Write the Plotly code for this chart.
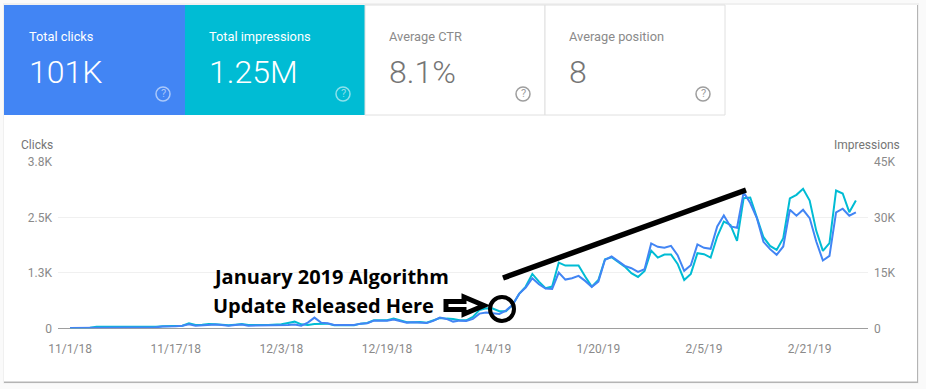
import pandas as pd
import plotly.graph_objects as go

W, H = 926, 389
start_date = "2018-11-01"
clicks = [8,8,8,8,15,23,23,23,23,15,15,15,15,23,38,38,45,60,90,60,68,90,83,75,60,75,83,60,60,68,
          68,68,68,75,83,60,128,241,128,113,75,75,75,75,105,113,173,166,173,196,166,128,136,136,120,166,241,211,151,173,
          166,211,331,354,339,324,399,527,776,919,1130,994,896,889,1258,1099,1130,1182,1069,934,1054,1544,1619,1514,1408,1355,1273,1333,1913,1837,
          1815,1860,1649,1295,1423,1890,1815,1792,2297,2545,2297,2267,3065,2824,2485,1950,1785,1657,1845,2673,2538,2673,2485,1958,1529,1634,2613,2696,2538,2613]
impressions = [90,90,90,180,450,450,450,360,360,270,270,270,360,450,540,540,540,720,1350,900,990,1170,1080,900,810,990,1170,900,810,900,
               900,990,1080,1440,1800,1080,900,1170,1170,1260,810,810,720,810,1260,1440,2160,2080,2170,2620,2170,1625,1625,1715,1535,2080,2800,2620,2530,2170,
               2170,3070,4970,5420,5330,4600,4600,6320,9300,11290,14720,12640,10840,11290,17790,16980,16980,16980,14000,11290,13090,18690,19230,18060,16700,14900,13900,15530,21040,19140,
               19960,19960,17430,13090,14720,20320,20050,19140,24830,28900,27990,23660,35220,35400,30250,24650,22300,21220,24380,35130,36120,37750,34580,26370,20950,23030,37290,36480,31420,34580]
x_tick_dates = ["2018-11-01","2018-11-17","2018-12-03","2018-12-19","2019-01-04","2019-01-20","2019-02-05","2019-02-21"]
x_tick_labels = ["11/1/18","11/17/18","12/3/18","12/19/18","1/4/19","1/20/19","2/5/19","2/21/19"]
y_left_vals = [0,1250,2500,3750]
y_left_labels = ["0","1.3K","2.5K","3.8K"]
y_right_vals = [0,15000,30000,45000]
y_right_labels = ["0","15K","30K","45K"]

BLUE, TEAL = "#4285F4", "#00BCD4"
dates = pd.date_range(start_date, periods=len(clicks))

def X(p): return p / W
def Y(p): return 1 - p / H
def rect(x0, y0, x1, y1, fill, line="rgba(0,0,0,0)", lw=0, layer="below"):
    return dict(type="rect", xref="paper", yref="paper", x0=X(x0), x1=X(x1), y0=Y(y1), y1=Y(y0),
                fillcolor=fill, line=dict(color=line, width=lw), layer=layer)
def text(x, y, t, size, color, anchor="left", family="Roboto, sans-serif", bold=False, weight=None):
    f = dict(size=size, color=color, family=family)
    if weight:
        f["weight"] = weight
    return dict(xref="paper", yref="paper", x=X(x), y=Y(y), text=f"<b>{t}</b>" if bold else t, showarrow=False,
                xanchor=anchor, yanchor="middle", font=f)

fig = go.Figure()
fig.add_trace(go.Scatter(x=dates, y=impressions, yaxis="y", mode="lines", name="Impressions",
                         line=dict(color=TEAL, width=2), hoverinfo="skip"))
fig.add_trace(go.Scatter(x=dates, y=clicks, yaxis="y2", mode="lines", name="Clicks",
                         line=dict(color=BLUE, width=2), hoverinfo="skip"))

shapes = [
    rect(3, 3, 919, 383.5, "#F0F0F0"),
    rect(4, 5, 918, 383, "#B4B4B4"),
    rect(4, 5, 917, 381.5, "#FFFFFF"),
    rect(4, 5, 185, 115, BLUE),
    rect(185, 5, 365, 115, TEAL),
    rect(365, 5, 545, 115, "#FFFFFF", "#E0E0E0", 1),
    rect(545, 5, 725, 115, "#FFFFFF", "#E0E0E0", 1),
]
annotations = []
cards = [(29, "Total clicks", "101K", "#FFFFFF", 163, "rgba(255,255,255,0.55)"),
         (209, "Total impressions", "1.25M", "#FFFFFF", 343, "rgba(255,255,255,0.55)"),
         (389, "Average CTR", "8.1%", "#757575", 523, "#9E9E9E"),
         (569, "Average position", "8", "#757575", 703, "#9E9E9E")]
for x, label, value, col, qx, qcol in cards:
    annotations.append(text(x-2, 36, label, 12.8, col if col == "#FFFFFF" else "#8A8A8A"))
    annotations.append(text(x-2, 72, value, 32, col, weight=300))
    shapes.append(dict(type="circle", xref="paper", yref="paper", x0=X(qx-7), x1=X(qx+7), y0=Y(101), y1=Y(87),
                       line=dict(color=qcol, width=1.5), layer="above"))
    annotations.append(text(qx, 94, "?", 11, qcol, anchor="center"))

annotations += [
    text(19, 145, "Clicks", 12, "#757575"),
    text(902, 145, "Impressions", 12, "#757575", anchor="right"),
    text(211, 276, "January 2019 Algorithm", 20, "#000000", family="Open Sans, sans-serif", bold=True),
    text(211, 305, "Update Released Here", 20, "#000000", family="Open Sans, sans-serif", bold=True),
]
# hand-drawn callouts
shapes.append(dict(type="line", xref="paper", yref="paper", x0=X(503), y0=Y(278), x1=X(746), y1=Y(190),
                   line=dict(color="#000000", width=5.5), layer="above"))
shapes.append(dict(type="circle", xref="paper", yref="paper", x0=X(490), x1=X(514), y0=Y(321), y1=Y(297),
                   line=dict(color="#000000", width=4), layer="above"))
pts = [(446,301.5),(464,301.5),(464,297),(484,305.5),(464,314),(464,309.5),(446,309.5)]
path = "M " + " L ".join(f"{X(a):.5f} {Y(b):.5f}" for a, b in pts) + " Z"
shapes.append(dict(type="path", xref="paper", yref="paper", path=path, fillcolor="#FFFFFF",
                   line=dict(color="#000000", width=5), layer="above"))

tickfont = dict(size=12, color="#8A8A8A", family="Roboto, sans-serif")
fig.update_layout(
    width=W, height=H, showlegend=False, paper_bgcolor="#FAFAFA", plot_bgcolor="rgba(0,0,0,0)",
    margin=dict(l=0, r=0, t=0, b=0, autoexpand=False),
    shapes=shapes, annotations=annotations,
    xaxis=dict(domain=[X(58), X(868)], type="date",
               range=["2018-10-30 04:00", "2019-03-01 20:00"],
               tickmode="array", tickvals=x_tick_dates, ticktext=x_tick_labels,
               showgrid=False, zeroline=False, showline=False, ticks="", tickfont=tickfont, ticklabelstandoff=12),
    yaxis=dict(domain=[Y(328.3), Y(162)], range=[0, 45000], side="right", tickmode="array",
               tickvals=y_right_vals, ticktext=y_right_labels, showgrid=True, gridcolor="#F0F0F0", gridwidth=1,
               zeroline=True, zerolinecolor="#9E9E9E", zerolinewidth=1, showline=False, ticks="",
               tickfont=tickfont, ticklabelstandoff=5),
    yaxis2=dict(domain=[Y(328.3), Y(162)], range=[0, 3750], overlaying="y", side="left", anchor="x",
                tickmode="array", tickvals=y_left_vals, ticktext=y_left_labels, showgrid=False,
                zeroline=False, showline=False, ticks="", tickfont=tickfont, ticklabelstandoff=5),
)
fig.write_html("out.html", config={"displayModeBar": False},
               post_script="document.body.style.margin='0';document.body.style.overflow='hidden';")
